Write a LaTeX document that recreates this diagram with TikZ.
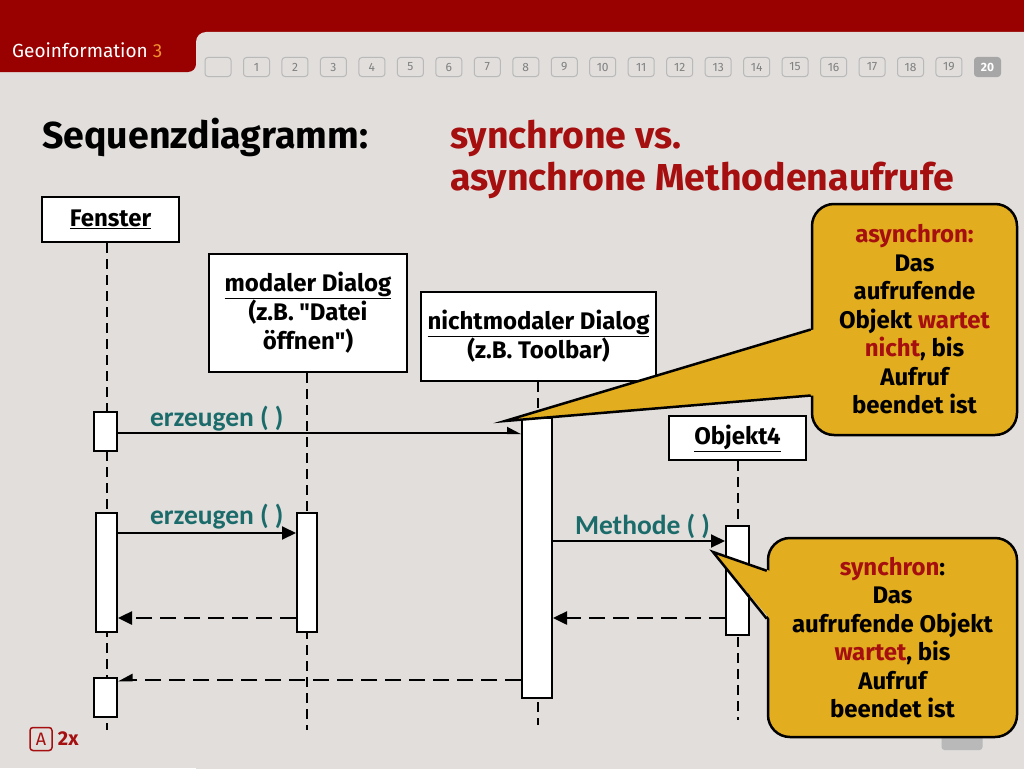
\documentclass[tikz,border=0pt]{standalone}
\usepackage{fontspec}
\setmainfont{Fira Sans}
\newfontfamily\lblfont{Carlito}
\newfontfamily\nolig{Fira Sans}[Ligatures=ResetAll]
\usetikzlibrary{arrows.meta,positioning}
\definecolor{hdrred}{HTML}{990000}
\definecolor{titlered}{HTML}{A50F0F}
\definecolor{bggray}{HTML}{E1DEDC}
\definecolor{callfill}{HTML}{E2AD1F}
\definecolor{msgteal}{HTML}{1B6B6B}
\definecolor{tabnum}{HTML}{F09030}
\newcommand{\fs}[2]{\fontsize{#1}{#2}\selectfont}
\newcommand{\redw}[1]{\textcolor{titlered}{#1}}
\newcommand{\sq}{{\nolig\bfseries "}}

\begin{document}
\begin{tikzpicture}[
  x=1pt, y=-1pt,
  obj/.style={draw, line width=2.5pt, fill=white, align=center, font=\bfseries\fs{24}{29}, inner sep=0pt},
  act/.style={draw, line width=2pt, fill=white, inner sep=0pt},
  life/.style={line width=2.5pt, dash pattern=on 10pt off 6pt},
  msg/.style={line width=2pt, -{Triangle[length=14pt,width=13pt]}},
  halfmsg/.style={line width=2pt, -{Triangle[length=12pt,width=12pt,left]}},
  ret/.style={line width=2.5pt, dash pattern=on 16pt off 8pt, -{Triangle[length=14pt,width=13pt]}},
  halfret/.style={line width=2.5pt, dash pattern=on 16pt off 8pt, -{Triangle[length=12pt,width=12pt,right]}},
  lbl/.style={font=\lblfont\bfseries\fs{27.5}{28}, text=msgteal, inner sep=0pt},
  note/.style={draw, line width=2.5pt, fill=callfill, rounded corners=22pt, align=center, font=\bfseries\fs{24}{28.5}, inner sep=0pt},
  pg/.style={draw=gray!55, line width=1pt, rounded corners=3pt, minimum width=26pt, minimum height=19pt, inner sep=0pt, font=\fs{12}{12}, text=gray},
  ttlfont/.style={anchor=base west, inner sep=0pt, font=\bfseries\fs{37.5}{40}}
]
\useasboundingbox (0,0) rectangle (1024,768);
\clip (0,0) rectangle (1024,768);

% page background and header
\fill[bggray] (0,0) rectangle (1024,768);
\fill[hdrred] (0,0) rectangle (1024,32);
\fill[hdrred, rounded corners=8pt] (-20,0) rectangle (196,72);
\fill[hdrred] (190,28) rectangle (212,46);
\fill[bggray, rounded corners=10pt] (196,32) rectangle (1060,800);
\node[anchor=base west, text=white, font=\fs{19}{20}, inner sep=0pt] (course) at (12,58) {Geoinformation \textcolor{tabnum}{3}};

\node[pg] (p0) at (218,67) {};
\foreach \i in {1,...,19}
  \node[pg] (p\i) at ({256.5+(\i-1)*38.47},67) {\i};
\node[pg, fill=gray!70, draw=gray!70, text=white, font=\bfseries\fs{12}{12}] (p20) at (987.5,67) {20};

% titles
\node[ttlfont] (ttl) at (42,148) {Sequenzdiagramm:};
\node[ttlfont, text=titlered] (sub1) at (450,148) {synchrone vs.};
\node[ttlfont, text=titlered] (sub2) at (450,190) {asynchrone Methodenaufrufe};

% objects
\node[obj, minimum width=137pt, minimum height=45pt] (fen) at (110.5,219.5) {\underline{Fenster}};
\node[obj, minimum width=198pt, minimum height=118pt] (modal) at (308,313) {\underline{modaler Dialog}\\(z.B. \sq Datei\\öffnen\sq)};
\node[obj, minimum width=235pt, minimum height=89pt] (nmodal) at (538.5,336.5) {\underline{nichtmodaler Dialog}\\(z.B. Toolbar)};
\node[obj, minimum width=137pt, minimum height=44pt] (obj4) at (737.5,438) {\underline{Objekt4}};

% lifelines
\coordinate (fenend) at (107,730);
\coordinate (modalend) at (307,730);
\coordinate (nmodalend) at (538,725);
\coordinate (obj4end) at (738,720);
\draw[life] (fenend |- fen.south) -- (fenend);
\draw[life] (modalend |- modal.south) -- (modalend);
\draw[life] (nmodalend |- nmodal.south) -- (nmodalend);
\draw[life] (obj4end |- obj4.south) -- (obj4end);

% activations
\node[act, minimum width=23pt, minimum height=39pt] (fa1) at (105.5,431.5) {};
\node[act, minimum width=21pt, minimum height=119pt] (fa2) at (106.5,572.5) {};
\node[act, minimum width=23pt, minimum height=39pt] (fa3) at (105.5,697.5) {};
\node[act, minimum width=20pt, minimum height=119pt] (ma) at (307,572.5) {};
\node[act, minimum width=30pt, minimum height=280pt] (na) at (537,558) {};
\node[act, minimum width=23pt, minimum height=109pt] (oa) at (737.5,580.5) {};

% messages
\draw[halfmsg] ([yshift=-22pt]fa1.north east) -- ([yshift=-16pt]na.north west)
  node[lbl, at start, anchor=base west, xshift=31pt, yshift=7pt] {erzeugen ( )};
\draw[msg] ([yshift=-21pt]fa2.north east) -- ([yshift=-21pt]ma.north west)
  node[lbl, at start, anchor=base west, xshift=31pt, yshift=9pt] {erzeugen ( )};
\draw[ret] ([yshift=-106pt]ma.north west) -- ([yshift=-106pt]fa2.north east);
\draw[msg] ([yshift=-124pt]na.north east) -- ([yshift=-16pt]oa.north west)
  node[lbl, at start, anchor=base west, xshift=21pt, yshift=7pt] {Methode ( )};
\draw[ret] ([yshift=-93pt]oa.north west) -- ([yshift=-201pt]na.north east);
\draw[halfret] ([yshift=-263pt]na.north west) -- ([yshift=-3pt]fa3.north east);

% footer
\node[draw=titlered, line width=1.5pt, rounded corners=3pt, text=titlered, font=\fs{18}{20}, minimum width=22pt, minimum height=23pt, inner sep=0pt] (abox) at (41,739) {A};
\node[right=5pt of abox, inner sep=0pt, text=titlered, font=\bfseries\fs{20}{22}] (twox) {2x};
\node[fill=gray!55, rounded corners=3pt, minimum width=41pt, minimum height=16pt, inner sep=0pt] (nav) at (962,742) {};

% callouts
\node[note, minimum width=205pt, minimum height=231pt] (async) at (914.5,319.5)
  {\redw{asynchron:}\\Das\\aufrufende\\Objekt \redw{wartet}\\\redw{nicht}, bis\\Aufruf\\beendet ist};
\coordinate (asynctip) at (505,421);
\fill[callfill] ([xshift=3pt,yshift=-10pt]async.west) -- (asynctip) -- ([xshift=3pt,yshift=-76pt]async.west) -- cycle;
\draw[line width=2.5pt, line join=miter] ([yshift=-10pt]async.west) -- (asynctip) -- ([yshift=-76pt]async.west);

\node[note, minimum width=249pt, minimum height=199pt] (sync) at (892.5,637.5)
  {\redw{synchron}:\\Das\\aufrufende Objekt\\\redw{wartet}, bis\\Aufruf\\beendet ist};
\coordinate (synctip) at (713,552);
\fill[callfill] ([xshift=3pt,yshift=-34pt]sync.north west) -- (synctip) -- ([xshift=3pt,yshift=-82pt]sync.north west) -- cycle;
\draw[line width=2.5pt, line join=miter] ([yshift=-34pt]sync.north west) -- (synctip) -- ([yshift=-82pt]sync.north west);
\end{tikzpicture}
\end{document}
